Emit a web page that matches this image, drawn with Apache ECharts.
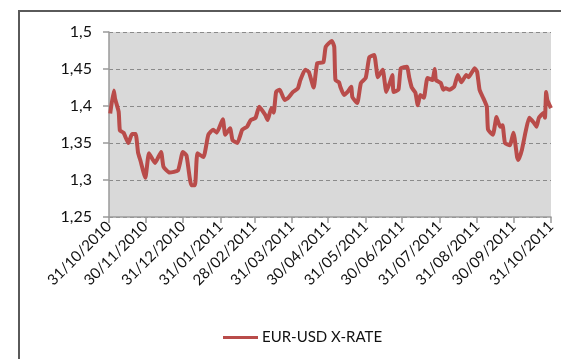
<!DOCTYPE html>
<html>
<head>
<meta charset="utf-8">
<script src="https://cdn.jsdelivr.net/npm/echarts@6/dist/echarts.min.js"></script>
<style>
  html, body { margin: 0; padding: 0; background: #ffffff; }
  #chart { width: 561px; height: 359px; }
</style>
</head>
<body>
<div id="chart"></div>
<script>
// EUR/USD exchange rate, Nov 2010 – Oct 2011
const tradeDates = [
  '2010-11-01','2010-11-04','2010-11-05','2010-11-08','2010-11-09','2010-11-12','2010-11-16','2010-11-19',
  '2010-11-22','2010-11-24','2010-11-26','2010-11-30','2010-12-03','2010-12-08','2010-12-13','2010-12-15',
  '2010-12-20','2010-12-27','2010-12-31','2011-01-03','2011-01-07','2011-01-10','2011-01-12','2011-01-17',
  '2011-01-21','2011-01-25','2011-01-28','2011-02-02','2011-02-04','2011-02-08','2011-02-10','2011-02-14',
  '2011-02-18','2011-02-22','2011-02-25','2011-03-01','2011-03-04','2011-03-09','2011-03-11','2011-03-14',
  '2011-03-16','2011-03-18','2011-03-21','2011-03-25','2011-03-28','2011-04-01','2011-04-05','2011-04-07',
  '2011-04-11','2011-04-14','2011-04-18','2011-04-21','2011-04-26','2011-04-28','2011-05-03','2011-05-05',
  '2011-05-06','2011-05-09','2011-05-10','2011-05-13','2011-05-16','2011-05-19','2011-05-20','2011-05-24',
  '2011-05-27','2011-05-31','2011-06-03','2011-06-07','2011-06-10','2011-06-14','2011-06-17','2011-06-20',
  '2011-06-22','2011-06-23','2011-06-27','2011-06-29','2011-07-04','2011-07-06','2011-07-08','2011-07-11',
  '2011-07-13','2011-07-15','2011-07-18','2011-07-21','2011-07-25','2011-07-27','2011-07-28','2011-08-01',
  '2011-08-03','2011-08-05','2011-08-08','2011-08-12','2011-08-15','2011-08-18','2011-08-22','2011-08-24',
  '2011-08-29','2011-08-31','2011-09-02','2011-09-05','2011-09-08','2011-09-09','2011-09-13','2011-09-16',
  '2011-09-19','2011-09-21','2011-09-23','2011-09-27','2011-09-30','2011-10-03','2011-10-04','2011-10-07',
  '2011-10-10','2011-10-13','2011-10-17','2011-10-19','2011-10-21','2011-10-25','2011-10-26','2011-10-27',
  '2011-10-28','2011-10-31'
];
const eurUsd = [
  1.390,1.421,1.410,1.392,1.367,1.364,1.350,1.362,
  1.362,1.337,1.326,1.303,1.336,1.323,1.338,1.318,
  1.310,1.313,1.338,1.333,1.293,1.293,1.336,1.331,
  1.361,1.368,1.364,1.382,1.361,1.370,1.354,1.350,
  1.368,1.372,1.381,1.384,1.399,1.388,1.381,1.397,
  1.391,1.419,1.422,1.408,1.411,1.419,1.424,1.435,
  1.449,1.446,1.425,1.458,1.459,1.480,1.488,1.480,
  1.435,1.432,1.426,1.415,1.419,1.426,1.412,1.404,
  1.431,1.438,1.466,1.469,1.439,1.449,1.419,1.432,
  1.442,1.419,1.422,1.451,1.453,1.438,1.425,1.418,
  1.401,1.415,1.411,1.438,1.435,1.450,1.435,1.431,
  1.422,1.424,1.422,1.426,1.442,1.432,1.442,1.439,
  1.451,1.446,1.422,1.411,1.399,1.368,1.361,1.385,
  1.372,1.374,1.350,1.347,1.364,1.331,1.327,1.341,
  1.365,1.384,1.377,1.372,1.384,1.391,1.384,1.419,
  1.408,1.397
];
// month-end tick dates on the x axis
const monthEnds = [
  '2010-10-31','2010-11-30','2010-12-31','2011-01-31','2011-02-28','2011-03-31','2011-04-30',
  '2011-05-31','2011-06-30','2011-07-31','2011-08-31','2011-09-30','2011-10-31'
];
const seriesName = 'EUR-USD X-RATE';

const DAY = 86400000;
function toUtc(s) {
  const p = s.split('-').map(Number);
  return Date.UTC(p[0], p[1] - 1, p[2]);
}
const origin = toUtc(monthEnds[0]);
const dayOf = s => Math.round((toUtc(s) - origin) / DAY);
const lastDay = dayOf(monthEnds[monthEnds.length - 1]);
const tickDays = monthEnds.map(dayOf);

function fmtDay(v) {
  const d = new Date(origin + Math.round(v) * DAY);
  const dd = String(d.getUTCDate()).padStart(2, '0');
  const mm = String(d.getUTCMonth() + 1).padStart(2, '0');
  return dd + '/' + mm + '/' + d.getUTCFullYear();
}

const points = tradeDates.map((s, i) => [dayOf(s), eurUsd[i]]);
const FONT = 'Lato, "Open Sans", sans-serif';

const chart = echarts.init(document.getElementById('chart'), null, { renderer: 'canvas' });
chart.setOption({
  animation: false,
  backgroundColor: '#ffffff',
  graphic: [{
    type: 'rect',
    shape: { x: 19, y: 11, width: 620, height: 420 },
    style: { fill: 'none', stroke: '#5a5a5a', lineWidth: 2 },
    silent: true
  }],
  grid: {
    left: 109, right: 10, top: 32, bottom: 142,
    show: true, backgroundColor: '#d9d9d9', borderWidth: 0
  },
  legend: {
    data: [seriesName],
    left: 223, top: 330, padding: 0,
    icon: 'rect', itemWidth: 35, itemHeight: 3, itemGap: 6,
    textStyle: { fontFamily: FONT, fontSize: 15, color: '#111111', padding: [0, 0, 0, -1] }
  },
  xAxis: {
    type: 'value', min: 0, max: lastDay,
    axisLine: { show: true, lineStyle: { color: '#9a9a9a', width: 1.5 } },
    axisTick: { show: true, customValues: tickDays, length: 6, lineStyle: { color: '#9a9a9a', width: 1.5 } },
    axisLabel: {
      customValues: tickDays, rotate: 45, margin: 7,
      formatter: fmtDay,
      fontFamily: FONT, fontSize: 15, color: '#111111'
    },
    splitLine: { show: false }
  },
  yAxis: {
    type: 'value', min: 1.25, max: 1.5, interval: 0.05,
    axisLine: { show: true, lineStyle: { color: '#9a9a9a', width: 1.5 } },
    axisTick: { show: true, length: 6, lineStyle: { color: '#9a9a9a', width: 1.5 } },
    axisLabel: {
      margin: 17,
      formatter: v => String(Math.round(v * 100) / 100).replace('.', ','),
      fontFamily: FONT, fontSize: 16, color: '#111111'
    },
    splitLine: { show: true, lineStyle: { color: '#8a8a8a', type: [4, 3], width: 1 } }
  },
  series: [{
    name: seriesName,
    type: 'line',
    data: points,
    showSymbol: false,
    symbol: 'none',
    smooth: 0.15,
    lineStyle: { color: '#b94c4a', width: 4 },
    itemStyle: { color: '#b94c4a' }
  }]
});
</script>
</body>
</html>
